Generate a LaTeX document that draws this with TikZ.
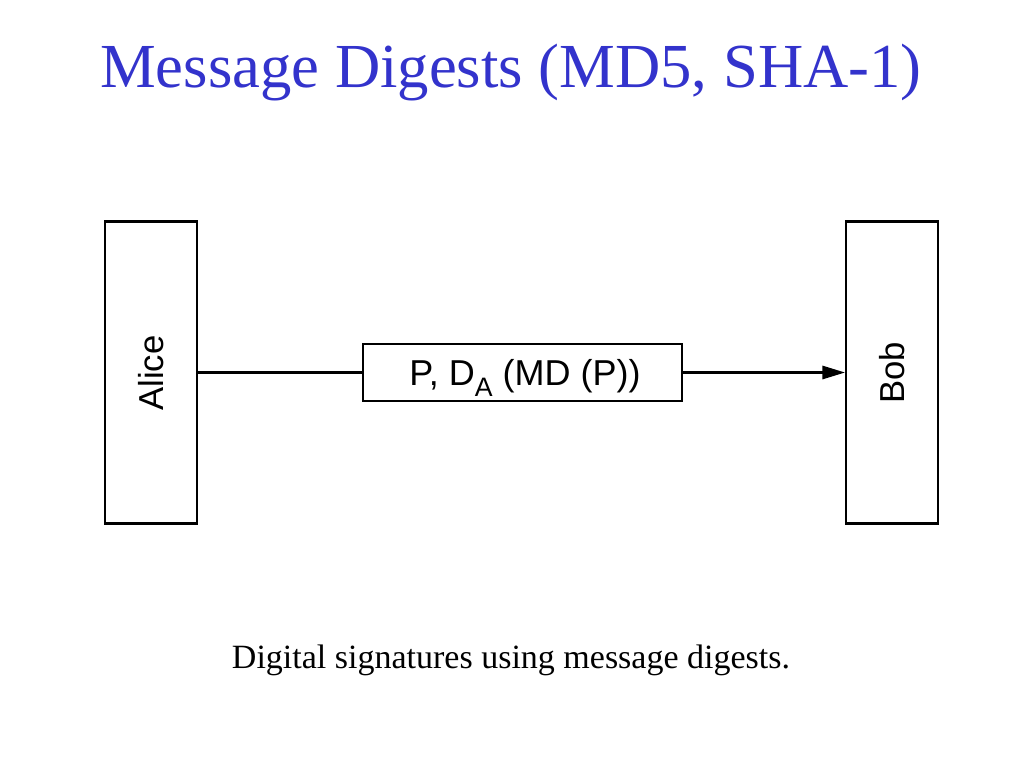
\documentclass[tikz,border=0pt]{standalone}
\usepackage{fontspec}
\setmainfont{Liberation Serif}
\newfontfamily\diagfont{Liberation Sans}
\usetikzlibrary{arrows.meta}
\definecolor{titleblue}{RGB}{51,51,204}
\tikzset{
  party/.style={draw, line width=1.6pt, minimum width=69pt, minimum height=226.5pt, inner sep=0pt},
  msgbox/.style={draw, line width=1.6pt, minimum width=239pt, minimum height=42.75pt, inner sep=0pt},
  plabel/.style={font=\diagfont\fontsize{26}{26}\selectfont, rotate=90, inner sep=0pt},
  conn/.style={line width=1.6pt},
}
\begin{document}
\begin{tikzpicture}[x=0.75pt,y=-0.75pt]
\useasboundingbox[fill=white] (0,0) rectangle (1024,768);
\node[anchor=base, text=titleblue, font=\fontsize{47}{50}\selectfont, inner sep=0pt] (title) at (511,87) {Message Digests (MD5, SHA-1)};
\node[party] (alice) at (151,372.5) {};
\node[party] (bob) at (892,372.5) {};
\node[plabel] (alicelbl) at (151,373) {Alice};
\node[plabel] (boblbl) at (892,373) {Bob};
\node[msgbox] (msg) at (522.5,372.5) {};
\node[anchor=base, font=\diagfont\fontsize{27}{27}\selectfont, inner sep=0pt] (msglbl) at (525,385) {P, D\raisebox{-0.32em}{\fontsize{20}{20}\selectfont A} (MD (P))};
\draw[conn] (alice) -- (msg);
\draw[conn, -{Triangle[length=17pt,width=10pt]}] (msg) -- (bob);
\node[anchor=base, font=\fontsize{25.5}{27}\selectfont, inner sep=0pt] (caption) at (511,668) {Digital signatures using message digests.};
\end{tikzpicture}
\end{document}
